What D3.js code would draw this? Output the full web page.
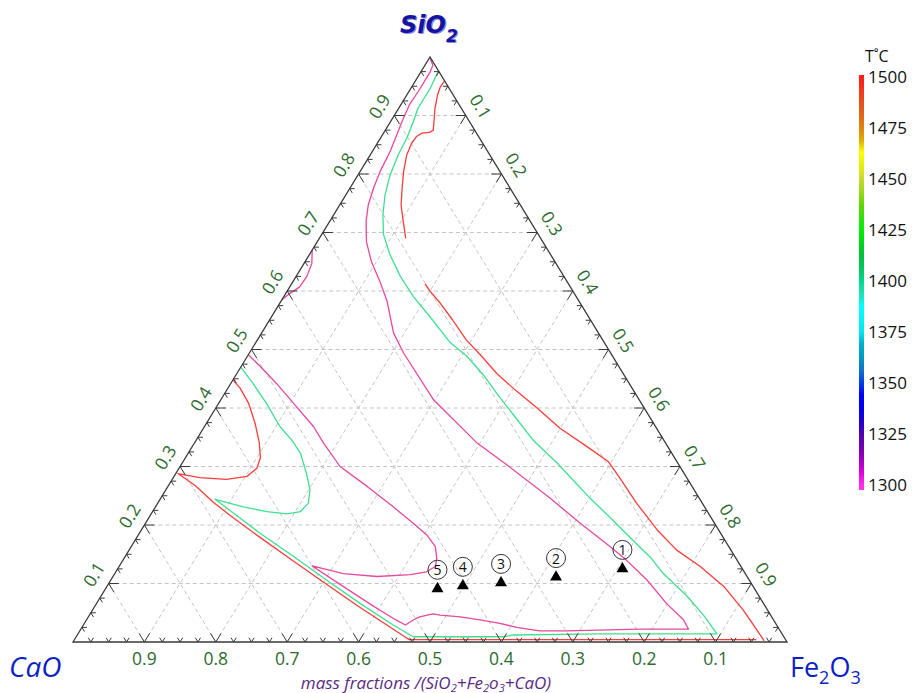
<!DOCTYPE html>
<html><head><meta charset="utf-8">
<script src="https://cdn.jsdelivr.net/npm/d3@7"></script>
<style>body{margin:0;background:#fff} svg{display:block}</style>
</head><body>
<svg id="chart" width="913" height="693"></svg>
<script>
// ---------- data ----------
const gridValues = [0.1,0.2,0.3,0.4,0.5,0.6,0.7,0.8,0.9];
const tickLabels = ["0.1","0.2","0.3","0.4","0.5","0.6","0.7","0.8","0.9"];
const colorbarTicks = [1500,1475,1450,1425,1400,1375,1350,1325,1300];
const colorbarStopTemps = [1500,1493,1487,1481,1475,1469,1463,1456,1450,1444,1437,1431,1425,1418,1412,1406,1400,1394,1388,1381,1375,1369,1362,1356,1350,1344,1337,1331,1325,1319,1312,1306,1300];
const colorbarStopColors = ["#ff1a1a","#f23a1e","#e4501e","#e06818","#e08410","#e0ac00","#ffff00","#e4ec10","#c8d830","#a0d820","#60d800","#30e010","#00f000","#00d420","#00c040","#00c860","#00d890","#20e0b0","#00ffff","#00f6f6","#00e6f0","#00b0c8","#0098c0","#1070c8","#0040e0","#0000ff","#0000f0","#2000d0","#5000b0","#7000b0","#a000c0","#e000e0","#ff30e8"];
const isoTemps = [1500,1400,1300];
const isoColors = ["#ff3b3b","#3ee08f","#e8479e"];
// isotherms as [SiO2, Fe2O3] mass fractions
const iso1500Top = [[0.959,0.041],[0.949,0.040],[0.935,0.043],[0.912,0.051],[0.889,0.061],[0.875,0.067],[0.871,0.064],[0.870,0.054],[0.864,0.049],[0.853,0.048],[0.833,0.051],[0.804,0.061],[0.776,0.073],[0.747,0.086],[0.719,0.103],[0.690,0.121]];
const iso1500Main = [[0.448,0.000],[0.434,0.017],[0.408,0.042],[0.374,0.068],[0.340,0.091],[0.315,0.105],[0.297,0.109],[0.283,0.102],[0.278,0.076],[0.281,0.037],[0.286,0.012],[0.288,0.003],[0.267,0.038],[0.239,0.077],[0.215,0.114],[0.181,0.169],[0.141,0.235],[0.101,0.302],[0.061,0.369],[0.024,0.434],[0.009,0.460],[0.004,0.469],[0.004,0.955]];
const iso1500Diag = [[0.002,0.967],[0.021,0.947],[0.055,0.911],[0.095,0.864],[0.129,0.814],[0.157,0.767],[0.192,0.722],[0.237,0.671],[0.280,0.626],[0.308,0.596],[0.334,0.553],[0.365,0.500],[0.400,0.450],[0.428,0.408],[0.459,0.364],[0.491,0.325],[0.516,0.293],[0.550,0.257],[0.579,0.225],[0.599,0.201],[0.612,0.187]];
const iso1400 = [[0.976,0.024],[0.964,0.025],[0.947,0.027],[0.932,0.027],[0.912,0.027],[0.889,0.032],[0.861,0.037],[0.833,0.039],[0.798,0.045],[0.764,0.055],[0.730,0.069],[0.696,0.087],[0.662,0.113],[0.625,0.146],[0.590,0.182],[0.556,0.222],[0.513,0.271],[0.488,0.308],[0.456,0.347],[0.425,0.381],[0.388,0.423],[0.345,0.472],[0.306,0.525],[0.246,0.601],[0.209,0.651],[0.174,0.697],[0.145,0.736],[0.118,0.767],[0.079,0.820],[0.046,0.860],[0.014,0.895],[0.014,0.731],[0.012,0.610],[0.009,0.600],[0.009,0.472],[0.029,0.434],[0.066,0.369],[0.106,0.302],[0.146,0.236],[0.186,0.169],[0.220,0.115],[0.244,0.077],[0.231,0.123],[0.223,0.160],[0.219,0.190],[0.223,0.207],[0.237,0.211],[0.260,0.202],[0.288,0.183],[0.323,0.157],[0.345,0.134],[0.368,0.106],[0.408,0.067],[0.442,0.031],[0.470,0.000]];
const iso1300Main = [[0.997,0.002],[0.986,0.011],[0.975,0.013],[0.961,0.013],[0.941,0.013],[0.918,0.012],[0.889,0.016],[0.867,0.020],[0.838,0.025],[0.804,0.028],[0.776,0.033],[0.747,0.040],[0.719,0.051],[0.684,0.069],[0.650,0.093],[0.616,0.122],[0.582,0.149],[0.528,0.185],[0.494,0.216],[0.414,0.298],[0.340,0.396],[0.303,0.456],[0.246,0.545],[0.203,0.609],[0.163,0.671],[0.140,0.705],[0.106,0.751],[0.066,0.798],[0.038,0.836],[0.022,0.851],[0.022,0.783],[0.019,0.682],[0.019,0.644],[0.025,0.609],[0.032,0.582],[0.038,0.551],[0.043,0.521],[0.046,0.491],[0.048,0.480],[0.043,0.464],[0.038,0.458],[0.029,0.451],[0.039,0.431],[0.063,0.387],[0.099,0.324],[0.130,0.270],[0.117,0.320],[0.112,0.370],[0.115,0.415],[0.120,0.435],[0.129,0.443],[0.143,0.438],[0.163,0.426],[0.183,0.404],[0.203,0.375],[0.231,0.333],[0.266,0.279],[0.300,0.224],[0.340,0.181],[0.368,0.153],[0.408,0.105],[0.442,0.064],[0.471,0.027],[0.491,0.000]];
const iso1300Small = [[0.670,0.000],[0.647,0.011],[0.625,0.015],[0.607,0.014],[0.596,0.006],[0.585,0.000]];
const sampleIds = [1,2,3,4,5];
const sampleSiO2 = [0.125,0.111,0.101,0.096,0.091];
const sampleFe2O3 = [0.707,0.621,0.549,0.498,0.465];

// ---------- layout ----------
const svg = d3.select("#chart");
const xU = d3.scaleLinear().domain([0,1]).range([73,787]);
const yA = d3.scaleLinear().domain([0,1]).range([642,57]);
const proj = (a,c) => [xU(c + a/2), yA(a)];
const line = d3.line().x(d => proj(d[0],d[1])[0]).y(d => proj(d[0],d[1])[1]);
const labelColor = "#2e6b30";
const axisColor = "#3a3a3a";

// grid
const grid = svg.append("g").attr("stroke","#c4c4c4").attr("stroke-width",1).attr("stroke-dasharray","4,3").attr("fill","none");
gridValues.forEach(v => {
  grid.append("path").attr("d", line([[v,0],[v,1-v]]));
  grid.append("path").attr("d", line([[0,v],[1-v,v]]));
  grid.append("path").attr("d", line([[0,1-v],[1-v,0]]));
});

// isotherms
const isoColor = d3.scaleOrdinal().domain(isoTemps).range(isoColors);
const isoLines = [[1500,iso1500Top],[1500,iso1500Main],[1500,iso1500Diag],[1400,iso1400],[1300,iso1300Main],[1300,iso1300Small]];
svg.append("g").selectAll("path").data(isoLines).join("path")
  .attr("d", d => line(d[1])).attr("fill","none")
  .attr("stroke", d => isoColor(d[0])).attr("stroke-width",1.3).attr("stroke-linejoin","round");

// axes (triangle)
svg.append("path").attr("d", line([[0,0],[0,1],[1,0],[0,0]]) + "Z")
  .attr("fill","none").attr("stroke",axisColor).attr("stroke-width",1.3);

// ticks
const s = 0.5209, k = 0.8536;
const ticks = svg.append("g").attr("stroke",axisColor).attr("stroke-width",1).attr("fill","none");
d3.range(1,40).forEach(i => {
  const t = i/40, L = (i % 4 === 0) ? 10 : 5;
  const edges = [
    {p: proj(0,t), d: [[-s,-k],[s,-k]]},
    {p: proj(t,0), d: [[1,0],[s,k]]},
    {p: proj(t,1-t), d: [[-1,0],[-s,k]]}
  ];
  edges.forEach(e => {
    const [x0,y0] = e.p;
    ticks.append("path").attr("d",
      `M${x0+e.d[0][0]*L},${y0+e.d[0][1]*L}L${x0},${y0}L${x0+e.d[1][0]*L},${y0+e.d[1][1]*L}`);
  });
});

// tick labels
const lab = svg.append("g").attr("fill",labelColor).attr("font-family","'Open Sans', sans-serif")
  .attr("font-size",17.5).attr("text-anchor","middle").attr("dominant-baseline","central");
const off = 18, ang = 58.6;
gridValues.forEach((v,i) => {
  let [x,y] = proj(v,0); x -= k*off; y -= s*off;
  lab.append("text").attr("transform",`translate(${x},${y}) rotate(${-ang})`).text(tickLabels[i]);
  [x,y] = proj(1-v,v); x += k*off; y -= s*off;
  lab.append("text").attr("transform",`translate(${x},${y}) rotate(${ang})`).text(tickLabels[i]);
  [x,y] = proj(0,1-v);
  lab.append("text").attr("x",x).attr("y",y+15.5).text(tickLabels[i]);
});

// samples
const samples = sampleIds.map((id,i) => ({id, a: sampleSiO2[i], c: sampleFe2O3[i]}));
const sg = svg.append("g");
sg.selectAll("path").data(samples).join("path")
  .attr("transform", d => `translate(${proj(d.a,d.c)})`)
  .attr("d", d3.symbol(d3.symbolTriangle, 62)).attr("fill","#000");
sg.selectAll("circle").data(samples).join("circle")
  .attr("cx", d => proj(d.a,d.c)[0]).attr("cy", d => proj(d.a,d.c)[1]-19)
  .attr("r",9.5).attr("fill","none").attr("stroke","#333").attr("stroke-width",1);
sg.selectAll("text").data(samples).join("text")
  .attr("x", d => proj(d.a,d.c)[0]).attr("y", d => proj(d.a,d.c)[1]-19)
  .attr("text-anchor","middle").attr("dominant-baseline","central")
  .attr("font-family","'Open Sans', sans-serif").attr("font-size",14).attr("fill","#111")
  .text(d => d.id);

// vertex titles
[["#8a8ae0",1.2],["#1414a0",0]].forEach(([col,dd]) => {
  const t = svg.append("text").attr("x",400+dd).attr("y",33+dd).attr("font-family","'DejaVu Sans', sans-serif")
    .attr("font-weight","bold").attr("font-style","italic").attr("font-size",24).attr("fill",col);
  t.append("tspan").text("SiO");
  t.append("tspan").attr("font-size",17).attr("dy",9).text("2");
});

svg.append("text").attr("x",9).attr("y",677).attr("font-family","'Open Sans', sans-serif")
  .attr("font-style","italic").attr("font-size",28).attr("fill","#0b1fc4").text("CaO");

const fe = svg.append("text").attr("x",790).attr("y",677).attr("font-family","'Open Sans', sans-serif")
  .attr("font-size",27).attr("fill","#0b1fc4");
fe.append("tspan").text("Fe");
fe.append("tspan").attr("font-size",18).attr("dy",7).text("2");
fe.append("tspan").attr("dy",-7).text("O");
fe.append("tspan").attr("font-size",18).attr("dy",7).text("3");

const mf = svg.append("text").attr("x",426).attr("y",689).attr("text-anchor","middle")
  .attr("font-family","'Open Sans', sans-serif").attr("font-style","italic").attr("font-size",17).attr("fill","#5b2a86");
[["mass fractions /(SiO",0],["2",1],["+Fe",0],["2",1],["o",0],["3",1],["+CaO)",0]].forEach((p,i,arr) => {
  const prevSub = i>0 && arr[i-1][1];
  const ts = mf.append("tspan").text(p[0]);
  if (p[1]) ts.attr("font-size",11).attr("dy",2.5);
  else if (prevSub) ts.attr("dy",-2.5);
});

// colorbar
const yC = d3.scaleLinear().domain([1300,1500]).range([485,77]);
const barTop = 75, barBot = 490;
const grad = svg.append("defs").append("linearGradient").attr("id","cbar")
  .attr("x1",0).attr("y1",0).attr("x2",0).attr("y2",1);
colorbarStopTemps.forEach((t,i) => {
  grad.append("stop").attr("offset", (yC(t)-barTop)/(barBot-barTop)).attr("stop-color", colorbarStopColors[i]);
});
svg.append("rect").attr("x",859).attr("y",barTop).attr("width",5).attr("height",barBot-barTop).attr("fill","url(#cbar)");
svg.append("g").attr("font-family","'Open Sans', sans-serif").attr("font-size",17).attr("fill","#111")
  .selectAll("text").data(colorbarTicks).join("text")
  .attr("x",868).attr("y", d => yC(d)+6).text(d => d);
svg.append("text").attr("x",865).attr("y",62).attr("font-family","'Open Sans', sans-serif")
  .attr("font-size",16).attr("fill","#111").text("T˚C");
</script>
</body></html>
